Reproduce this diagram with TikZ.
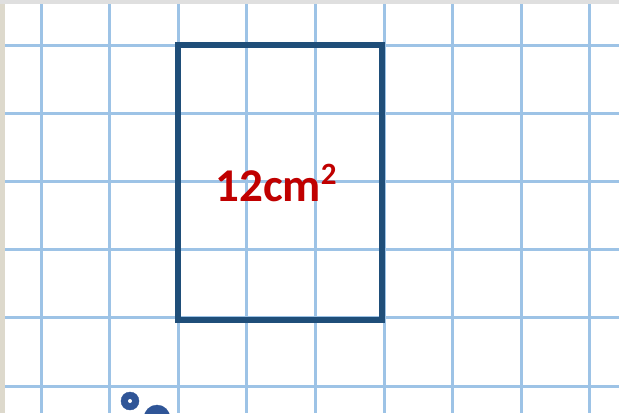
\documentclass[tikz,border=0pt]{standalone}
\usepackage{fontspec}
\setmainfont{Carlito}
\usepackage{xcolor}
\definecolor{gridblue}{HTML}{9DC3E6}
\definecolor{boxblue}{HTML}{1F4E79}
\definecolor{areared}{HTML}{C00000}
\definecolor{dotblue}{HTML}{2F5597}
\definecolor{edgebeige}{HTML}{DDD9CC}
\usetikzlibrary{positioning}

\begin{document}
\begin{tikzpicture}[x=1pt,y=-1pt,
  grid line/.style={draw=gridblue,line width=3pt},
  area box/.style={draw=boxblue,line width=6pt},
  area label/.style={text=areared,font=\bfseries\fontsize{47}{50}\selectfont,inner sep=0pt},
  dot/.style={circle,fill=dotblue,draw=dotblue,inner sep=0pt}]

  \useasboundingbox (0,0) rectangle (619,413);
  \fill[white] (0,0) rectangle (619,413);
  % paper edge
  \fill[edgebeige] (0,0) rectangle (5,413);
  \fill[gray!25] (0,0) rectangle (619,4);

  % squared paper
  \foreach \gx in {41,109.6,178.2,246.8,315.4,384,452.6,521.2,589.8}
    \draw[grid line] (\gx,4) -- (\gx,413);
  \foreach \gy in {45,113.2,181.4,249.6,317.8,386}
    \draw[grid line] (5,\gy) -- (619,\gy);

  % the 3 x 4 rectangle
  \node[area box,minimum width=204pt,minimum height=275pt,inner sep=0pt]
    (R) at (280,182.5) {};
  \node[area label] (A) at (276,183) {12cm\raisebox{0.36em}{\fontsize{31}{33}\selectfont 2}};

  % dots at the bottom
  \node[dot,minimum size=18pt] (D1) at (130,401) {};
  \node[circle,fill=white,inner sep=0pt,minimum size=4pt] at (D1.center) {};
  \node[dot,minimum size=26pt] (D2) at (157,418) {};
  \node[circle,fill=white,inner sep=0pt,minimum size=5pt] at (D2.center) {};
\end{tikzpicture}
\end{document}
